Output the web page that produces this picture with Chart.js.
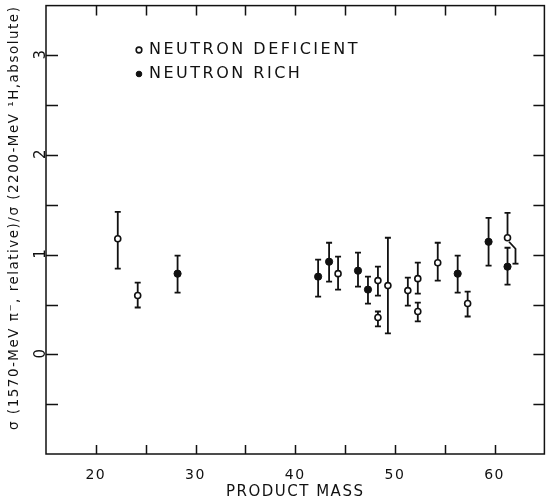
<!DOCTYPE html>
<html>
<head>
<meta charset="utf-8">
<script src="https://cdn.jsdelivr.net/npm/chart.js@4"></script>
<style>
  html, body { margin: 0; padding: 0; background: #fff; }
  #wrap { width: 550px; height: 504px; }
</style>
</head>
<body>
<div id="wrap"><canvas id="chart" width="550" height="504"></canvas></div>
<script>
// Neutron deficient products (open circles)
const deficientMass = [22.2, 24.2, 44.3, 48.3, 48.3, 49.3, 51.3, 52.3, 52.3, 54.3, 57.3, 61.3];
const deficientVal  = [1.16, 0.59, 0.81, 0.74, 0.37, 0.69, 0.64, 0.76, 0.43, 0.92, 0.51, 1.17];
const deficientLo   = [0.86, 0.47, 0.65, 0.59, 0.28, 0.21, 0.49, 0.61, 0.33, 0.74, 0.38, null];
const deficientHi   = [1.43, 0.72, 0.98, 0.88, 0.43, 1.17, 0.77, 0.92, 0.52, 1.12, 0.63, 1.42];

// Neutron rich products (filled circles)
const richMass = [28.2, 42.3, 43.4, 46.3, 47.3, 56.3, 59.4, 61.3];
const richVal  = [0.81, 0.78, 0.93, 0.84, 0.65, 0.81, 1.13, 0.88];
const richLo   = [0.62, 0.58, 0.73, 0.68, 0.51, 0.62, 0.89, 0.70];
const richHi   = [0.99, 0.95, 1.12, 1.02, 0.78, 0.99, 1.37, 1.07];

// lower error bar of the open point at 61, drawn offset to the right
const kinkMass = [61.45, 62.1, 62.1];
const kinkVal  = [1.13, 1.06, 0.91];

const xTickLabels = [20, 30, 40, 50, 60];
const yTickLabels = [0, 1, 2, 3];

const toPoints = (xs, ys) => xs.map((x, i) => ({ x: x, y: ys[i] }));

// error bars, frame and inward ticks
const paperPlugin = {
    id: 'paper',
    beforeDraw(chart) {
        chart.ctx.letterSpacing = '1.5px';
    },
    beforeDatasetsDraw(chart) {
        const ctx = chart.ctx;
        const xs = chart.scales.x, ys = chart.scales.y;
        ctx.save();
        ctx.strokeStyle = '#111';
        ctx.lineWidth = 1.8;
        const drawSet = (mass, val, lo, hi) => {
            mass.forEach((m, i) => {
                const px = xs.getPixelForValue(m);
                const pHi = ys.getPixelForValue(hi[i]);
                const pMid = ys.getPixelForValue(val[i]);
                ctx.beginPath();
                ctx.moveTo(px - 3, pHi);
                ctx.lineTo(px + 3, pHi);
                ctx.moveTo(px, pHi);
                if (lo[i] !== null) {
                    const pLo = ys.getPixelForValue(lo[i]);
                    ctx.lineTo(px, pLo);
                    ctx.moveTo(px - 3, pLo);
                    ctx.lineTo(px + 3, pLo);
                } else {
                    ctx.lineTo(px, pMid);
                }
                ctx.stroke();
            });
        };
        drawSet(deficientMass, deficientVal, deficientLo, deficientHi);
        drawSet(richMass, richVal, richLo, richHi);
        // cap at the end of the offset bar
        const kx = xs.getPixelForValue(kinkMass[kinkMass.length - 1]);
        const ky = ys.getPixelForValue(kinkVal[kinkVal.length - 1]);
        ctx.beginPath();
        ctx.moveTo(kx - 3, ky);
        ctx.lineTo(kx + 3, ky);
        ctx.stroke();
        ctx.restore();
    },
    afterDraw(chart) {
        const ctx = chart.ctx;
        const a = chart.chartArea;
        const xs = chart.scales.x, ys = chart.scales.y;
        ctx.save();
        ctx.strokeStyle = '#111';
        ctx.lineWidth = 1.5;
        ctx.strokeRect(a.left, a.top, a.right - a.left, a.bottom - a.top);
        ctx.beginPath();
        xs.ticks.forEach(t => {
            const px = Math.round(xs.getPixelForValue(t.value)) + 0.5;
            if (px <= a.left + 2 || px >= a.right - 2) return;
            ctx.moveTo(px, a.bottom);
            ctx.lineTo(px, a.bottom - 9);
            ctx.moveTo(px, a.top);
            ctx.lineTo(px, a.top + 10);
        });
        ys.ticks.forEach(t => {
            const py = Math.round(ys.getPixelForValue(t.value)) + 0.5;
            if (py <= a.top + 2 || py >= a.bottom - 2) return;
            ctx.moveTo(a.left, py);
            ctx.lineTo(a.left + 12, py);
            ctx.moveTo(a.right, py);
            ctx.lineTo(a.right - 11, py);
        });
        ctx.stroke();
        ctx.restore();
    },
    afterLayout(chart) {
        // place the key inside the plot, upper left, with wider lettering
        const legend = chart.legend;
        legend.left = 129;
        legend.top = 34;
        if (!legend._spaced) {
            const draw = legend.draw;
            legend.draw = function (area) {
                this.ctx.save();
                this.ctx.letterSpacing = '2.5px';
                draw.call(this, area);
                this.ctx.restore();
            };
            legend._spaced = true;
        }
    }
};

const ctx = document.getElementById('chart').getContext('2d');
const chart = new Chart(ctx, {
    type: 'scatter',
    data: {
        datasets: [{
            label: 'NEUTRON DEFICIENT',
            data: toPoints(deficientMass, deficientVal),
            pointStyle: 'circle',
            pointRadius: 3,
            pointBorderWidth: 1.6,
            borderColor: '#111',
            backgroundColor: '#fff'
        }, {
            label: 'NEUTRON RICH',
            data: toPoints(richMass, richVal),
            pointStyle: 'circle',
            pointRadius: 3.6,
            pointBorderWidth: 1,
            borderColor: '#111',
            backgroundColor: '#111'
        }, {
            label: 'offset bar',
            data: toPoints(kinkMass, kinkVal),
            showLine: true,
            pointRadius: 0,
            borderWidth: 1.8,
            borderColor: '#111',
            backgroundColor: '#111'
        }]
    },
    options: {
        responsive: false,
        animation: false,
        events: [],
        layout: { padding: { top: 3, right: 3, left: 0, bottom: 0 } },
        plugins: {
            tooltip: { enabled: false },
            legend: {
                position: 'chartArea',
                align: 'start',
                labels: {
                    usePointStyle: true,
                    boxWidth: 4,
                    boxHeight: 4,
                    padding: 8,
                    color: '#111',
                    font: { family: 'DejaVu Sans', size: 16 },
                    filter: item => item.datasetIndex < 2
                }
            }
        },
        scales: {
            x: {
                type: 'linear',
                min: 15,
                max: 65,
                grid: { display: false },
                border: { display: false },
                afterFit: s => { s.height = 50; },
                ticks: {
                    stepSize: 5,
                    padding: 5,
                    color: '#111',
                    font: { family: 'DejaVu Sans', size: 14 },
                    callback: v => xTickLabels.includes(v) ? String(v) : ''
                },
                title: {
                    display: true,
                    text: 'PRODUCT MASS',
                    color: '#111',
                    padding: { top: 0, bottom: 3 },
                    font: { family: 'DejaVu Sans', size: 15 }
                }
            },
            y: {
                type: 'linear',
                min: -1,
                max: 3.5,
                grid: { display: false },
                border: { display: false },
                afterFit: s => { s.width = 46; },
                ticks: {
                    stepSize: 0.5,
                    padding: -8,
                    labelOffset: -1.5,
                    minRotation: 90,
                    maxRotation: 90,
                    crossAlign: 'center',
                    color: '#111',
                    font: { family: 'DejaVu Sans', size: 15 },
                    callback: v => yTickLabels.includes(v) ? String(v) : ''
                },
                title: {
                    display: true,
                    align: 'end',
                    text: 'σ (1570-MeV π⁻, relative)/σ (2200-MeV ¹H,absolute)',
                    color: '#111',
                    padding: { top: 6, bottom: 0 },
                    font: { family: 'DejaVu Sans', size: 13.5 }
                }
            }
        }
    },
    plugins: [paperPlugin]
});
</script>
</body>
</html>
